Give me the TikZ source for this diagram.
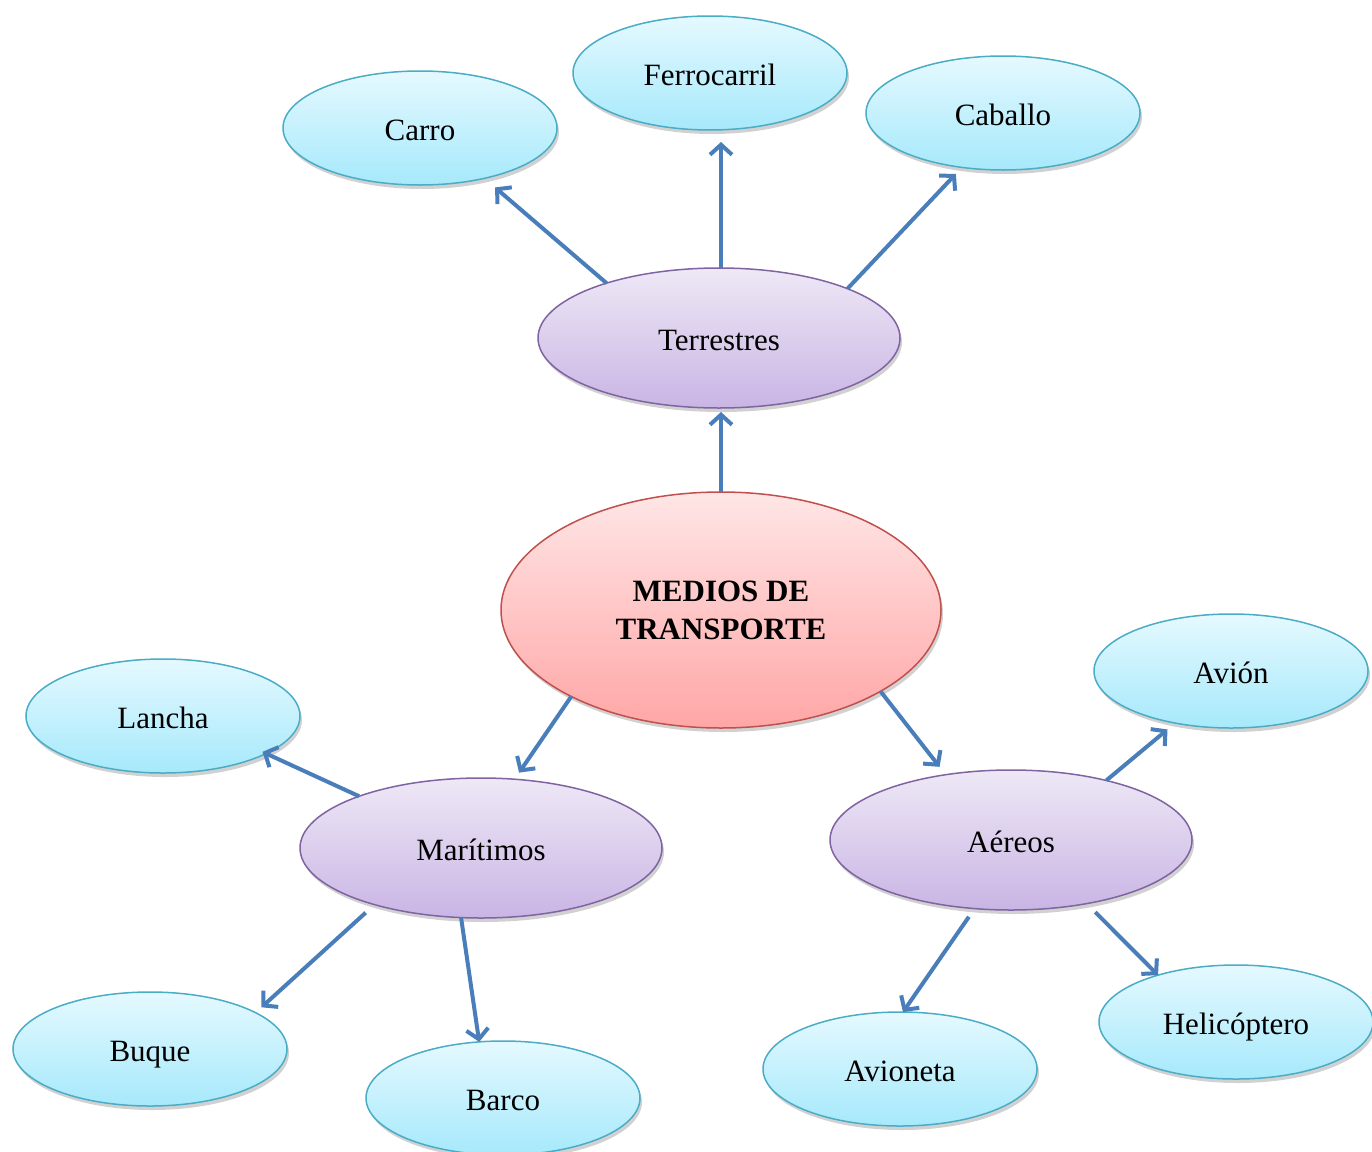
\documentclass[tikz,border=0pt]{standalone}
\usepackage{fontspec}
\setmainfont{Liberation Serif}
\usetikzlibrary{shapes.geometric,arrows.meta,shadows}
\definecolor{leafborder}{HTML}{4BACC6}
\definecolor{leaftop}{HTML}{E5F9FF}
\definecolor{leafbot}{HTML}{A6E9FB}
\definecolor{catborder}{HTML}{8064A2}
\definecolor{cattop}{HTML}{EEE8F6}
\definecolor{catbot}{HTML}{C9B5E4}
\definecolor{rootborder}{HTML}{C0504D}
\definecolor{roottop}{HTML}{FFE6E6}
\definecolor{rootbot}{HTML}{FFA6A6}
\definecolor{arrowblue}{HTML}{4A7EBB}
\begin{document}
\begin{tikzpicture}[x=1pt,y=-1pt,
  base/.style={ellipse, inner sep=0pt, outer sep=0pt, line width=1.5pt,
    font=\fontsize{31}{38}\selectfont, align=center,
    drop shadow={shadow xshift=2pt, shadow yshift=-4pt, opacity=0.18, fill=black}},
  leaf/.style={base, draw=leafborder, top color=leaftop, bottom color=leafbot,
    minimum width=274pt, minimum height=114pt, text height=27pt, text depth=3pt},
  cat/.style={base, draw=catborder, top color=cattop, bottom color=catbot,
    minimum width=362pt, minimum height=140pt, text height=27pt, text depth=3pt},
  root/.style={base, draw=rootborder, top color=roottop, bottom color=rootbot,
    minimum width=440pt, minimum height=236pt, font=\fontsize{31}{38}\selectfont\bfseries},
  arr/.style={draw=arrowblue, line width=4pt, -{Straight Barb[length=10pt,width=22pt]}},
]
\useasboundingbox (0,0) rectangle (1372,1151);

\node[root] (M) at (721,610) {MEDIOS DE\\TRANSPORTE};
\node[cat] (T) at (719,338) {Terrestres};
\node[cat] (Ma) at (481,848) {Marítimos};
\node[cat] (Ae) at (1011,840) {Aéreos};
\node[leaf] (Ca) at (420,128) {Carro};
\node[leaf] (Fe) at (710,73) {Ferrocarril};
\node[leaf] (Cb) at (1003,113) {Caballo};
\node[leaf] (La) at (163,716) {Lancha};
\node[leaf] (Bu) at (150,1049) {Buque};
\node[leaf] (Ba) at (503,1098) {Barco};
\node[leaf] (Av) at (1231,671) {Avión};
\node[leaf] (Avt) at (900,1069) {Avioneta};
\node[leaf] (He) at (1236,1022) {Helicóptero};

\draw[arr, shorten >=4pt] (M.north) -- (M.north |- T.south);
\draw[arr, shorten >=14pt] (T.154.8) -- (Ca.-38.7);
\draw[arr, shorten >=12pt] ([xshift=2pt]T.north) -- ([xshift=2pt]T.north |- Fe.south);
\draw[arr, shorten >=9pt] (T.21) -- (Cb.233.4);
\draw[arr, shorten >=8pt] (M.210.5) -- (Ma.64.7);
\draw[arr, shorten >=10pt] (M.-27) -- (Ae.135.4);
\draw[arr, shorten >=-4pt] (Ma.157) -- (La.-20);
\draw[arr, shorten <=12pt, shorten >=8pt] (Ma.208.9) -- (Bu.19);
\draw[arr] (Ma.254.6) -- (Ba.113.3);
\draw[arr, shorten >=10pt] (Ae.32) -- (Av.223.1);
\draw[arr, shorten <=10pt] (Ae.242.6) -- (Avt.87);
\draw[arr, shorten <=12pt] (Ae.-40.9) -- (He.149.2);
\end{tikzpicture}
\end{document}
